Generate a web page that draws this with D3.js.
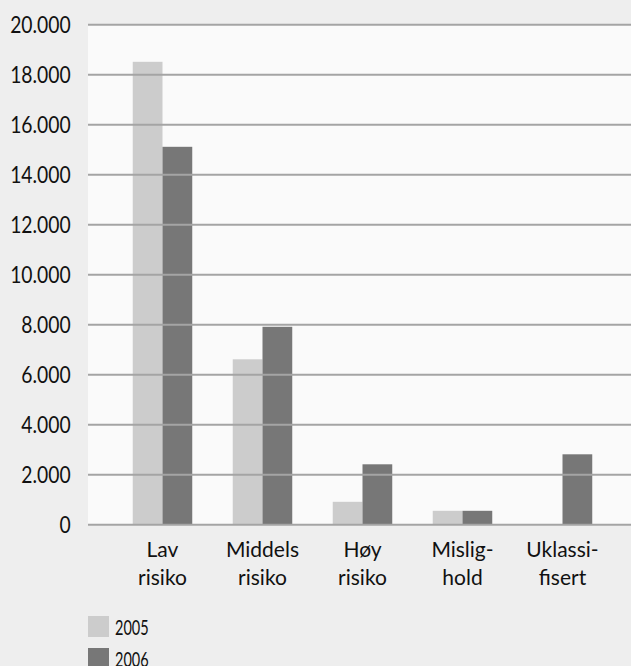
<!DOCTYPE html>
<html>
<head>
<meta charset="utf-8">
<script src="https://cdn.jsdelivr.net/npm/d3@7"></script>
<style>
  html, body { margin: 0; padding: 0; background: #eeeeee; }
  svg { display: block; }
  text { font-family: Lato, "Open Sans", sans-serif; fill: #111; }
</style>
</head>
<body>
<svg id="chart" width="631" height="666"></svg>
<script>
// Category labels, split over two lines as printed under the axis
const categoryLines = [
  ["Lav", "risiko"],
  ["Middels", "risiko"],
  ["Høy", "risiko"],
  ["Mislig-", "hold"],
  ["Uklassi-", "fisert"]
];
const categories = categoryLines.map(l => l.join(" "));
const seriesNames = ["2005", "2006"];
const values2005 = [18500, 6600, 900, 540, 0];
const values2006 = [15100, 7900, 2400, 540, 2800];
const yTicks = [0, 2000, 4000, 6000, 8000, 10000, 12000, 14000, 16000, 18000, 20000];
const seriesColors = ["#cccccc", "#777777"];

const W = 631, H = 666;
const plot = { left: 88, right: 631, top: 24.3, bottom: 524.3 };

const svg = d3.select("#chart");

// Norwegian number format: "." as thousands separator
const nb = d3.formatLocale({ decimal: ",", thousands: ".", grouping: [3], currency: ["", " kr"] });
const fmt = nb.format(",");

const y = d3.scaleLinear().domain([0, 20000]).range([plot.bottom, plot.top]);
const x0 = d3.scaleBand().domain(categories).range([112.5, 612.5]).paddingInner(0).paddingOuter(0);
const groupW = x0.bandwidth() * 0.595;
const x1 = d3.scaleBand().domain(seriesNames)
  .range([(x0.bandwidth() - groupW) / 2, (x0.bandwidth() + groupW) / 2]);

// Plot area background
svg.append("rect")
  .attr("x", plot.left).attr("y", plot.top)
  .attr("width", plot.right - plot.left).attr("height", plot.bottom - plot.top)
  .attr("fill", "#fafafa");

// Bars
const rows = categories.map((c, i) => ({ cat: c, vals: [values2005[i], values2006[i]] }));
const groups = svg.append("g").selectAll("g").data(rows).join("g")
  .attr("transform", d => `translate(${x0(d.cat)},0)`);
groups.selectAll("rect")
  .data(d => d.vals.map((v, j) => ({ series: seriesNames[j], v, j })))
  .join("rect")
  .attr("x", d => x1(d.series))
  .attr("width", x1.bandwidth())
  .attr("y", d => y(d.v))
  .attr("height", d => y(0) - y(d.v))
  .attr("fill", d => seriesColors[d.j]);

// Y axis with gridlines drawn over the bars
const sx = 0.84;
const yAxis = svg.append("g")
  .attr("transform", `translate(${plot.left},0)`)
  .call(d3.axisLeft(y).tickValues(yTicks).tickFormat(fmt)
    .tickSize(-(plot.right - plot.left)).tickPadding(0));
yAxis.select(".domain").remove();
yAxis.selectAll(".tick line").attr("stroke", "#a4a4a4").attr("stroke-width", 2);
yAxis.selectAll(".tick text")
  .attr("x", -17.3 / sx)
  .attr("dy", "0.36em")
  .attr("transform", `scale(${sx},1)`)
  .style("font-size", "23px")
  .style("font-family", "Lato, sans-serif")
  .attr("fill", "#111");

// Category labels
const catLabels = svg.append("g").selectAll("text").data(categoryLines).join("text")
  .attr("text-anchor", "middle")
  .style("font-size", "21px");
catLabels.each(function (lines, i) {
  const cx = x0(categories[i]) + x0.bandwidth() / 2;
  d3.select(this).selectAll("tspan").data(lines).join("tspan")
    .attr("x", cx)
    .attr("y", (d, k) => 556.7 + k * 28.3)
    .text(d => d);
});

// Legend
const lsx = 0.66;
const legend = svg.append("g");
seriesNames.forEach((name, j) => {
  const top = 616 + j * 32;
  legend.append("rect")
    .attr("x", 88).attr("y", top)
    .attr("width", 21).attr("height", 21)
    .attr("fill", seriesColors[j]);
  legend.append("text")
    .attr("transform", `scale(${lsx},1)`)
    .attr("x", 115 / lsx).attr("y", top + 19)
    .style("font-size", "22px")
    .text(name);
});
</script>
</body>
</html>
